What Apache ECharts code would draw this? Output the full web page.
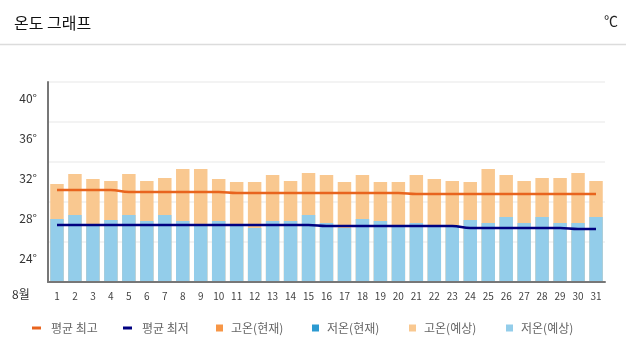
<!DOCTYPE html>
<html>
<head>
<meta charset="utf-8">
<script src="https://cdn.jsdelivr.net/npm/echarts@6/dist/echarts.min.js"></script>
<style>
html,body{margin:0;padding:0;background:#fff;}
#c{width:626px;height:356px;}
</style>
</head>
<body>
<div id="c"></div>
<script>
var days = ['1','2','3','4','5','6','7','8','9','10','11','12','13','14','15','16','17','18','19','20','21','22','23','24','25','26','27','28','29','30','31'];
var yTicks = [20, 24, 28, 32, 36, 40];
var avgHigh = [29.2,29.2,29.2,29.2,29.0,29.0,29.0,29.0,29.0,29.0,28.9,28.9,28.9,28.9,28.9,28.9,28.9,28.9,28.9,28.9,28.8,28.8,28.8,28.8,28.8,28.8,28.8,28.8,28.8,28.8,28.8];
var avgLow = [25.7,25.7,25.7,25.7,25.7,25.7,25.7,25.7,25.7,25.7,25.7,25.7,25.7,25.7,25.7,25.6,25.6,25.6,25.6,25.6,25.6,25.6,25.6,25.4,25.4,25.4,25.4,25.4,25.4,25.3,25.3];
var highNow = [];
var lowNow = [];
var highForecast = [29.8,30.8,30.3,30.1,30.8,30.1,30.4,31.3,31.3,30.3,30.0,30.0,30.7,30.1,30.9,30.7,30.0,30.7,30.0,30.0,30.7,30.3,30.1,30.0,31.3,30.7,30.1,30.4,30.4,30.9,30.1];
var lowForecast = [26.3,26.7,25.7,26.2,26.7,26.1,26.7,26.1,25.7,26.1,25.7,25.4,26.1,26.1,26.7,25.9,25.4,26.3,26.1,25.7,25.9,25.7,25.7,26.2,25.9,26.5,25.9,26.5,25.9,25.9,26.5];
var names = ['평균 최고','평균 최저','고온(현재)','저온(현재)','고온(예상)','저온(예상)'];
var colors = ['#E8641E','#000080','#F79646','#2C9AD1','#F9C890','#93CDEA'];

var FONT = "'Noto Sans CJK KR','Noto Sans',sans-serif";
var chart = echarts.init(document.getElementById('c'), null, {renderer:'canvas'});

var legendLeft = [27, 118, 211, 307, 404, 501];
var legends = names.map(function(n, i){
  var isLine = i < 2;
  return {
    left: legendLeft[i], top: 317,
    itemWidth: isLine ? 9 : 7,
    itemHeight: isLine ? 3 : 7,
    icon: 'rect',
    data: [n],
    selectedMode: false,
    textStyle: {fontFamily: FONT, fontSize: 12, color: '#666', padding: [0,0,0, isLine ? 5 : 3]}
  };
});

var option = {
  animation: false,
  color: colors,
  textStyle: {fontFamily: FONT},
  title: [
    {text: '온도 그래프', left: 9, top: 10, textStyle: {fontFamily: FONT, fontSize: 16, fontWeight: 'normal', color: '#111'}},
    {text: '℃', left: 599, top: 9, textStyle: {fontFamily: FONT, fontSize: 14, fontWeight: 'normal', color: '#222'}}
  ],
  graphic: [
    {type: 'line', shape: {x1: 0, y1: 44.5, x2: 626, y2: 44.5}, style: {stroke: '#dcdcdc', lineWidth: 1.5}},
    {type: 'text', left: 12, top: 288, style: {text: '8월', font: '12px ' + FONT, fill: '#333'}}
  ],
  legend: legends,
  grid: {left: 48, right: 21, top: 82, bottom: 74},
  xAxis: {
    type: 'category', data: days, z: 5,
    axisLine: {lineStyle: {color: '#777', width: 2}},
    axisTick: {show: false},
    axisLabel: {fontSize: 10, color: '#444', margin: 9, interval: 0}
  },
  yAxis: {
    type: 'value', min: yTicks[0], max: yTicks[yTicks.length-1], interval: 4,
    axisLine: {show: true, lineStyle: {color: '#777', width: 2}},
    axisTick: {show: false},
    splitLine: {lineStyle: {color: '#efefef', width: 1.5}},
    axisLabel: {
      showMinLabel: false, fontSize: 12, color: '#333', margin: 11,
      verticalAlign: 'top', lineHeight: 12, padding: [10,0,0,0],
      formatter: function(v){ return v + '°'; }
    }
  },
  series: [
    {name: names[2], type: 'bar', data: highNow, barWidth: '75%', barGap: '-100%', itemStyle: {color: colors[2]}},
    {name: names[3], type: 'bar', data: lowNow, barWidth: '75%', barGap: '-100%', itemStyle: {color: colors[3]}},
    {name: names[4], type: 'bar', data: highForecast, barWidth: '75%', barGap: '-100%', itemStyle: {color: colors[4]}},
    {name: names[5], type: 'bar', data: lowForecast, barWidth: '75%', barGap: '-100%', itemStyle: {color: colors[5]}},
    {name: names[0], type: 'line', data: avgHigh, smooth: 0.4, symbol: 'none', z: 4, lineStyle: {color: colors[0], width: 2.5}, itemStyle: {color: colors[0]}},
    {name: names[1], type: 'line', data: avgLow, smooth: 0.4, symbol: 'none', z: 4, lineStyle: {color: colors[1], width: 2.5}, itemStyle: {color: colors[1]}}
  ]
};
chart.setOption(option);
</script>
</body>
</html>
